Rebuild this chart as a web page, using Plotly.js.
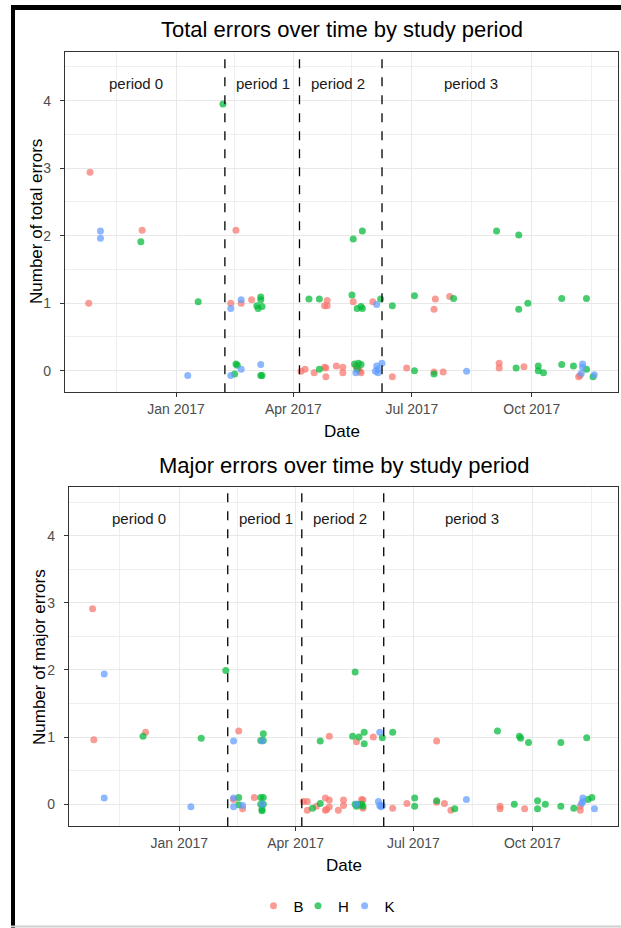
<!DOCTYPE html>
<html>
<head>
<meta charset="utf-8">
<script src="https://cdn.plot.ly/plotly-3.0.1.min.js"></script>
<style>
  html, body { margin: 0; padding: 0; background: #ffffff; }
  #chart { width: 621px; height: 928px; }
</style>
</head>
<body>
<div id="chart"></div>
<script>
// ---------------- DATA ----------------
const groups = ["B", "H", "K"];
const groupColors = ["#F8766D", "#00BA38", "#619CFF"];

// Total errors (top panel)
const bTotalDates = ["2016-10-27","2016-10-26","2016-12-06","2017-02-16","2017-02-12","2017-02-20","2017-02-28","2017-04-27","2017-04-25","2017-04-27","2017-05-17","2017-06-01","2017-07-19","2017-07-18","2017-07-30","2017-04-07","2017-04-10","2017-04-17","2017-04-25","2017-04-26","2017-04-26","2017-05-04","2017-05-09","2017-05-09","2017-05-19","2017-05-21","2017-05-22","2017-05-23","2017-05-20","2017-06-16","2017-06-27","2017-07-18","2017-07-25","2017-09-06","2017-09-06","2017-09-25","2017-11-07","2017-11-06"];
const bTotal = [2.94,1.00,2.08,2.08,1.00,1.00,1.05,1.04,0.96,0.96,1.02,1.02,1.06,0.91,1.10,-0.01,0.02,-0.03,0.05,0.04,-0.09,0.07,0.05,-0.03,0.07,0.02,-0.01,-0.03,0.05,-0.09,0.04,-0.02,-0.02,0.11,0.04,0.06,-0.07,-0.09];

const hTotalDates = ["2016-12-05","2017-01-18","2017-02-06","2017-03-07","2017-03-07","2017-03-04","2017-03-05","2017-03-08","2017-04-13","2017-04-21","2017-05-17","2017-05-24","2017-05-16","2017-05-20","2017-05-23","2017-05-24","2017-06-07","2017-06-16","2017-07-03","2017-08-02","2017-09-04","2017-09-21","2017-09-21","2017-09-28","2017-10-24","2017-11-12","2017-02-16","2017-02-17","2017-02-15","2017-03-07","2017-03-08","2017-04-21","2017-05-18","2017-05-21","2017-05-23","2017-05-20","2017-07-03","2017-07-18","2017-09-19","2017-10-06","2017-10-06","2017-10-10","2017-10-24","2017-11-02","2017-11-12","2017-11-17"];
const hTotal = [1.91,1.02,3.95,1.09,1.05,0.96,0.92,0.95,1.06,1.06,1.95,2.07,1.12,0.92,0.95,0.92,1.06,0.96,1.11,1.07,2.07,2.01,0.91,1.00,1.07,1.07,0.10,0.08,-0.05,-0.07,-0.07,0.02,0.10,0.11,0.09,0.02,0.00,-0.05,0.04,0.07,0.00,-0.03,0.09,0.07,0.02,-0.09];

const kTotalDates = ["2016-11-04","2016-11-04","2017-01-10","2017-02-12","2017-02-20","2017-06-04","2017-02-12","2017-02-20","2017-03-07","2017-05-19","2017-06-04","2017-06-05","2017-06-05","2017-06-03","2017-06-08","2017-08-12","2017-11-09","2017-11-09","2017-11-08","2017-11-18"];
const kTotal = [2.07,1.96,-0.07,0.92,1.05,0.98,-0.07,0.02,0.09,-0.03,0.07,0.02,-0.03,-0.01,0.11,-0.01,0.10,0.05,-0.04,-0.06];

// Major errors (bottom panel)
const bMajorDates = ["2016-10-26","2016-10-27","2016-12-06","2017-02-16","2017-04-27","2017-05-18","2017-05-31","2017-07-19","2017-02-12","2017-02-19","2017-02-28","2017-04-07","2017-04-10","2017-04-10","2017-04-17","2017-04-24","2017-04-27","2017-04-24","2017-04-25","2017-04-27","2017-05-04","2017-05-08","2017-05-08","2017-05-22","2017-05-23","2017-05-21","2017-05-23","2017-06-15","2017-06-26","2017-07-19","2017-07-25","2017-07-30","2017-09-06","2017-09-06","2017-09-25","2017-11-07","2017-11-07"];
const bMajor = [2.91,0.96,1.07,1.09,1.01,0.93,1.00,0.94,0.07,-0.07,0.10,0.04,0.04,-0.09,-0.03,0.09,0.06,-0.09,-0.08,-0.04,-0.09,0.06,-0.02,0.07,0.06,-0.02,-0.06,-0.06,0.01,0.03,0.01,-0.09,-0.03,-0.07,-0.07,-0.03,-0.09];

const hMajorDates = ["2016-12-04","2017-01-18","2017-02-06","2017-03-07","2017-03-05","2017-03-07","2017-04-20","2017-05-15","2017-05-17","2017-05-20","2017-05-24","2017-05-24","2017-06-07","2017-06-15","2017-09-04","2017-09-21","2017-09-22","2017-09-28","2017-10-23","2017-11-12","2017-02-16","2017-02-16","2017-03-05","2017-03-07","2017-03-05","2017-03-07","2017-03-06","2017-03-06","2017-04-14","2017-04-20","2017-05-17","2017-05-18","2017-05-19","2017-05-22","2017-05-23","2017-07-02","2017-07-02","2017-07-19","2017-08-02","2017-09-17","2017-10-05","2017-10-05","2017-10-11","2017-10-23","2017-11-02","2017-11-13","2017-11-16"];
const hMajor = [1.01,0.98,1.99,1.05,0.95,0.95,0.94,1.01,1.97,1.00,1.07,0.90,0.99,1.07,1.09,1.01,0.98,0.92,0.92,0.99,0.10,-0.01,0.10,0.10,0.00,0.00,-0.08,-0.10,-0.06,0.01,0.00,-0.03,0.00,0.00,-0.03,0.09,-0.03,0.05,-0.07,0.00,0.05,-0.07,0.00,-0.03,-0.06,0.07,0.10];

const kMajorDates = ["2016-11-04","2016-11-04","2017-01-10","2017-02-12","2017-03-06","2017-06-05","2017-02-12","2017-02-12","2017-02-19","2017-03-06","2017-05-18","2017-06-04","2017-06-05","2017-06-06","2017-06-07","2017-08-11","2017-11-09","2017-11-09","2017-11-08","2017-11-18"];
const kMajor = [1.94,0.09,-0.04,0.94,0.94,1.07,0.09,-0.04,-0.02,0.00,0.00,0.04,-0.02,-0.04,-0.02,0.07,0.09,0.04,0.01,-0.07];

// Study periods
const periodBreaks = ["2017-02-07 12:00","2017-04-05 18:00","2017-06-08 02:00"];
const periodLabels = ["period 0","period 1","period 2","period 3"];
const periodLabelDates = ["2016-12-01","2017-03-09","2017-05-05","2017-08-15"];
const periodLabelY = 4.26;

// Axis ticks
const xTickVals = ["2017-01-01","2017-04-01","2017-07-01","2017-10-01"];
const xTickText = ["Jan 2017","Apr 2017","Jul 2017","Oct 2017"];
const xMinorVals = ["2016-11-16","2017-02-15","2017-05-16","2017-08-16","2017-11-16"];
const yTickVals = [0,1,2,3,4];
const yMinorVals = [0.5,1.5,2.5,3.5,4.5];
const xRange = ["2016-10-07 19:00","2017-12-06 10:00"];

const titles = ["Total errors over time by study period","Major errors over time by study period"];
const yTitles = ["Number of total errors","Number of major errors"];
const xTitle = "Date";

// ---------------- LAYOUT HELPERS ----------------
const W = 621, H = 928;
const px = v => v / W;
const py = v => 1 - v / H;
const FONT = "Liberation Sans, Arial, sans-serif";

const seriesTop = [[bTotalDates,bTotal],[hTotalDates,hTotal],[kTotalDates,kTotal]];
const seriesBot = [[bMajorDates,bMajor],[hMajorDates,hMajor],[kMajorDates,kMajor]];
const legendIds = ["legend", "legend2", "legend3"];
const legendLeftPx = [253.5, 298, 344.6];

const traces = [];
groups.forEach((g,i) => {
  traces.push({
    type: "scatter", mode: "markers", name: g,
    x: seriesTop[i][0], y: seriesTop[i][1], xaxis: "x", yaxis: "y",
    marker: {color: groupColors[i], size: 7, opacity: 0.72},
    legendgroup: g, legend: legendIds[i], showlegend: true, hoverinfo: "x+y+name"
  });
});
groups.forEach((g,i) => {
  traces.push({
    type: "scatter", mode: "markers", name: g,
    x: seriesBot[i][0], y: seriesBot[i][1], xaxis: "x2", yaxis: "y2",
    marker: {color: groupColors[i], size: 7, opacity: 0.72},
    legendgroup: g, showlegend: false, hoverinfo: "x+y+name"
  });
});

function xAxis(domain, anchor) {
  return {
    type: "date", domain: domain, anchor: anchor, range: xRange,
    tickmode: "array", tickvals: xTickVals, ticktext: xTickText,
    tickfont: {family: FONT, size: 14, color: "#4D4D4D"},
    ticks: "outside", ticklen: 4, tickwidth: 1.1, tickcolor: "#333333",
    showgrid: true, gridcolor: "#E8E8E8", gridwidth: 1.2,
    minor: {tickmode: "array", tickvals: xMinorVals, showgrid: true, gridcolor: "#EFEFEF", gridwidth: 0.8, ticks: ""},
    showline: true, mirror: true, linecolor: "#333333", linewidth: 1.1,
    zeroline: false, fixedrange: true
  };
}
function yAxis(domain, anchor, range) {
  return {
    domain: domain, anchor: anchor, range: range,
    tickmode: "array", tickvals: yTickVals,
    tickfont: {family: FONT, size: 14, color: "#4D4D4D"},
    ticks: "outside", ticklen: 4, tickwidth: 1.1, tickcolor: "#333333",
    ticklabelstandoff: 6,
    showgrid: true, gridcolor: "#E8E8E8", gridwidth: 1.2,
    minor: {tickmode: "array", tickvals: yMinorVals, showgrid: true, gridcolor: "#EFEFEF", gridwidth: 0.8, ticks: ""},
    showline: true, mirror: true, linecolor: "#333333", linewidth: 1.1,
    zeroline: false, fixedrange: true
  };
}

const shapes = [];
// dashed period boundaries in both panels
[["x","y"],["x2","y2"]].forEach(([xa,ya]) => {
  periodBreaks.forEach(d => {
    shapes.push({type: "line", xref: xa, yref: ya + " domain", x0: d, x1: d, y0: 0, y1: 1,
      line: {color: "#000000", width: 1.3, dash: "dash"}});
  });
});
// outer frame
shapes.push({type: "rect", xref: "paper", yref: "paper", x0: px(11), x1: px(15), y0: py(928), y1: py(5),
  fillcolor: "#000000", line: {width: 0}, layer: "above"});
shapes.push({type: "rect", xref: "paper", yref: "paper", x0: px(11), x1: px(621), y0: py(10), y1: py(5),
  fillcolor: "#000000", line: {width: 0}, layer: "above"});
shapes.push({type: "line", xref: "paper", yref: "paper", x0: px(11), x1: px(621), y0: py(926.5), y1: py(926.5),
  line: {color: "#D0D0D0", width: 2}});

const annotations = [];
// titles
annotations.push({xref: "paper", yref: "paper", x: px(341.6), y: py(29.5), text: titles[0], showarrow: false,
  xanchor: "center", yanchor: "middle", font: {family: FONT, size: 22, color: "#000000"}});
annotations.push({xref: "paper", yref: "paper", x: px(343.6), y: py(465), text: titles[1], showarrow: false,
  xanchor: "center", yanchor: "middle", font: {family: FONT, size: 22, color: "#000000"}});
// x titles
annotations.push({xref: "paper", yref: "paper", x: px(341.6), y: py(431), text: xTitle, showarrow: false,
  xanchor: "center", yanchor: "middle", font: {family: FONT, size: 17, color: "#000000"}});
annotations.push({xref: "paper", yref: "paper", x: px(343.6), y: py(865), text: xTitle, showarrow: false,
  xanchor: "center", yanchor: "middle", font: {family: FONT, size: 17, color: "#000000"}});
// y titles
annotations.push({xref: "paper", yref: "paper", x: px(36), y: py(222), text: yTitles[0], showarrow: false, textangle: -90,
  xanchor: "center", yanchor: "middle", font: {family: FONT, size: 17, color: "#000000"}});
annotations.push({xref: "paper", yref: "paper", x: px(39), y: py(657), text: yTitles[1], showarrow: false, textangle: -90,
  xanchor: "center", yanchor: "middle", font: {family: FONT, size: 17, color: "#000000"}});
// period labels
[["x","y"],["x2","y2"]].forEach(([xa,ya]) => {
  periodLabels.forEach((t,i) => {
    annotations.push({xref: xa, yref: ya, x: periodLabelDates[i], y: periodLabelY, text: t, showarrow: false,
      xanchor: "center", yanchor: "middle", font: {family: FONT, size: 15, color: "#1A1A1A"}});
  });
});

const layout = {
  width: W, height: H,
  margin: {l: 0, r: 0, t: 0, b: 0},
  paper_bgcolor: "#FFFFFF", plot_bgcolor: "#FFFFFF",
  font: {family: FONT},
  showlegend: true,
  xaxis: xAxis([px(65), px(618.3)], "y"),
  yaxis: yAxis([py(392.3), py(52)], "x", [-0.32, 4.72]),
  xaxis2: xAxis([px(69), px(618.3)], "y2"),
  yaxis2: yAxis([py(826.3), py(487.3)], "x2", [-0.33, 4.72]),
  shapes: shapes,
  annotations: annotations
};
legendIds.forEach((id,i) => {
  layout[id] = {orientation: "h", x: px(legendLeftPx[i]), xanchor: "left", y: py(906), yanchor: "middle",
    font: {family: FONT, size: 15, color: "#000000"}, itemwidth: 30, bgcolor: "rgba(0,0,0,0)"};
});

Plotly.newPlot("chart", traces, layout, {displayModeBar: false, staticPlot: false});
</script>
</body>
</html>
